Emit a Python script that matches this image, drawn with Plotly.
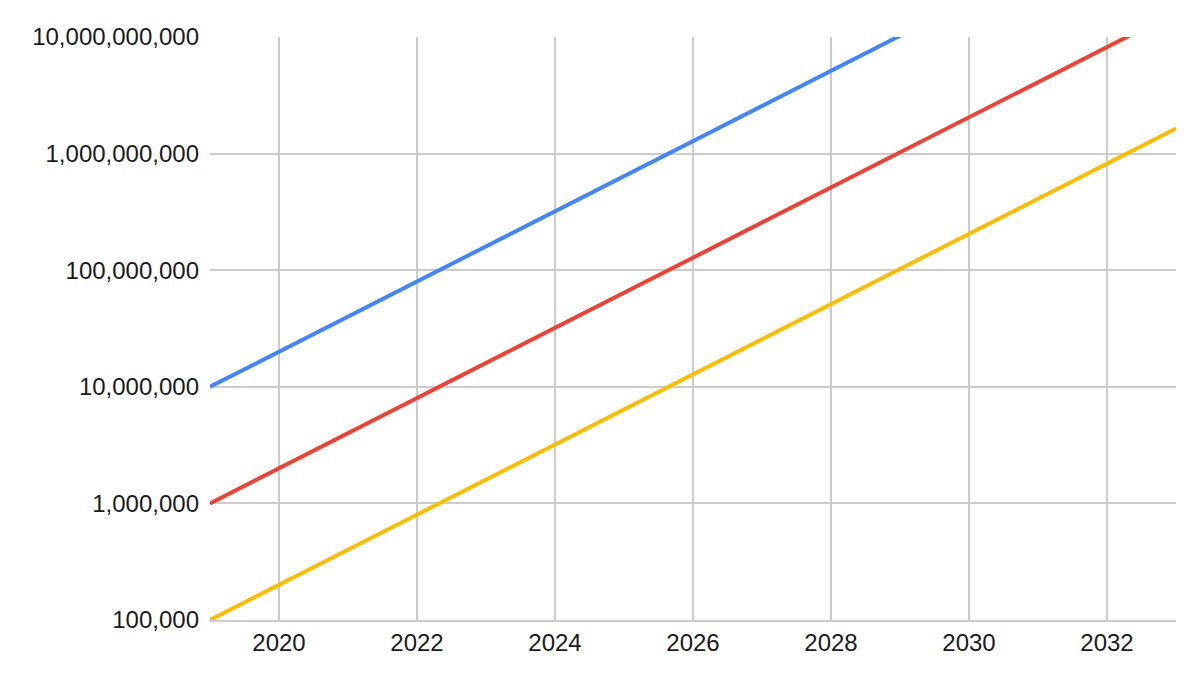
import plotly.graph_objects as go

years = [2019, 2020, 2021, 2022, 2023, 2024, 2025, 2026, 2027, 2028, 2029, 2030, 2031, 2032, 2033]

blue_values = [10_000_000, 20_000_000, 40_000_000, 80_000_000, 160_000_000, 320_000_000,
               640_000_000, 1_280_000_000, 2_560_000_000, 5_120_000_000, 10_240_000_000]
red_values = [1_000_000, 2_000_000, 4_000_000, 8_000_000, 16_000_000, 32_000_000, 64_000_000,
              128_000_000, 256_000_000, 512_000_000, 1_024_000_000, 2_048_000_000,
              4_096_000_000, 8_192_000_000, 16_384_000_000]
yellow_values = [100_000, 200_000, 400_000, 800_000, 1_600_000, 3_200_000, 6_400_000,
                 12_800_000, 25_600_000, 51_200_000, 102_400_000, 204_800_000,
                 409_600_000, 819_200_000, 1_638_400_000]

y_tick_vals = [100_000, 1_000_000, 10_000_000, 100_000_000, 1_000_000_000, 10_000_000_000]
y_tick_text = ["100,000", "1,000,000", "10,000,000", "100,000,000", "1,000,000,000", "10,000,000,000"]
x_tick_vals = [2020, 2022, 2024, 2026, 2028, 2030, 2032]
x_tick_text = ["2020", "2022", "2024", "2026", "2028", "2030", "2032"]

fig = go.Figure()
fig.add_trace(go.Scatter(x=years[:len(blue_values)], y=blue_values, mode="lines",
                         line=dict(color="#4285F4", width=4), showlegend=False))
fig.add_trace(go.Scatter(x=years[:len(red_values)], y=red_values, mode="lines",
                         line=dict(color="#EA4335", width=4), showlegend=False))
fig.add_trace(go.Scatter(x=years[:len(yellow_values)], y=yellow_values, mode="lines",
                         line=dict(color="#FBBC04", width=4), showlegend=False))

font = dict(family="Liberation Sans, Arial, sans-serif", size=24, color="#1a1a1a")

fig.update_layout(
    width=1192, height=668,
    margin=dict(l=202, r=24, t=29, b=56),
    paper_bgcolor="white", plot_bgcolor="white",
    font=font,
    xaxis=dict(range=[2019, 2033], tickvals=x_tick_vals, ticktext=x_tick_text,
               showgrid=True, gridcolor="#cccccc", gridwidth=2, zeroline=False,
               showline=True, linecolor="#cccccc", linewidth=2,
               ticks="", ticklabelstandoff=0, tickfont=font),
    yaxis=dict(type="log", range=[5, 10], tickvals=y_tick_vals, ticktext=y_tick_text,
               showgrid=True, gridcolor="#cccccc", gridwidth=2, zeroline=False,
               showline=False, ticks="", ticklabelstandoff=10, tickfont=font),
)

fig.write_html("out.html")
